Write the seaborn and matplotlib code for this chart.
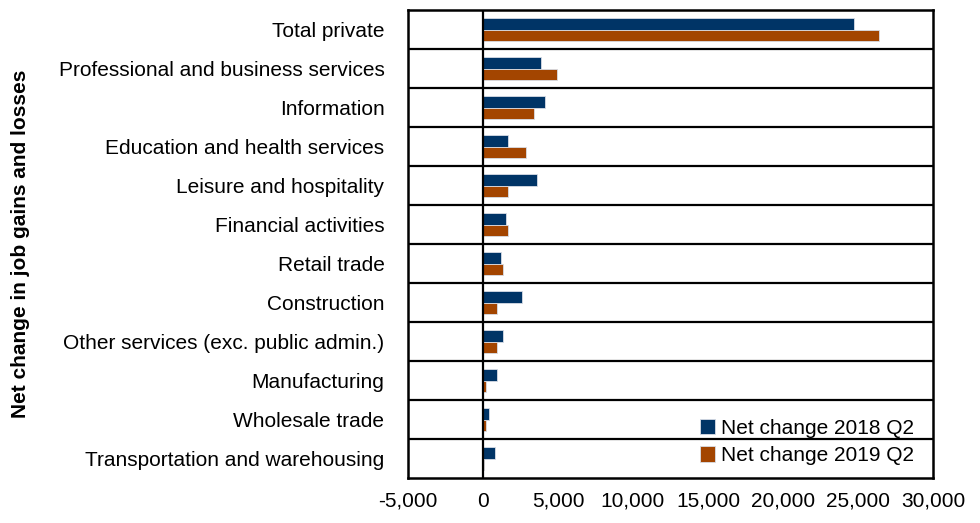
import matplotlib
matplotlib.use("Agg")
import matplotlib.pyplot as plt
from matplotlib.ticker import FuncFormatter
import pandas as pd
import seaborn as sns

# ---- Data ----
industries = [
    "Total private",
    "Professional and business services",
    "Information",
    "Education and health services",
    "Leisure and hospitality",
    "Financial activities",
    "Retail trade",
    "Construction",
    "Other services (exc. public admin.)",
    "Manufacturing",
    "Wholesale trade",
    "Transportation and warehousing",
]
net_2018 = [24730, 3880, 4130, 1690, 3600, 1560, 1180, 2600, 1310, 930, 430, 800]
net_2019 = [26420, 4900, 3370, 2850, 1690, 1690, 1310, 930, 930, 180, 180, 40]
series = ["Net change 2018 Q2", "Net change 2019 Q2"]
colors = ["#003466", "#A34500"]

df = pd.DataFrame({
    "industry": industries * 2,
    "value": net_2018 + net_2019,
    "series": [series[0]] * len(industries) + [series[1]] * len(industries),
})

sns.set_style("white")
plt.rcParams["font.family"] = ["Liberation Sans", "DejaVu Sans"]
plt.rcParams["text.color"] = "black"
plt.rcParams["axes.labelcolor"] = "black"
plt.rcParams["xtick.color"] = "black"
plt.rcParams["ytick.color"] = "black"

fig = plt.figure(figsize=(9.8, 5.23), dpi=100)
ax = fig.add_axes([408 / 980, 45 / 523, 525 / 980, 468 / 523])

sns.barplot(data=df, y="industry", x="value", hue="series", orient="h",
            palette=colors, width=0.58, order=industries, hue_order=series,
            edgecolor="#d8dde6", linewidth=0.6, saturation=1, ax=ax)

# ---- Styling ----
ax.set_xlim(-5000, 30000)
ax.set_xticks(range(-5000, 30001, 5000))
ax.xaxis.set_major_formatter(FuncFormatter(lambda v, p: f"{int(v):,}"))
ax.set_ylim(len(industries) - 0.5, -0.5)
for i in range(len(industries) - 1):
    ax.axhline(i + 0.5, color="black", lw=1.6)
ax.axvline(0, color="black", lw=1.6)
for s in ax.spines.values():
    s.set_color("black")
    s.set_linewidth(1.8)

ax.tick_params(axis="x", direction="out", length=6, width=1.5, color="black",
               labelsize=15, pad=4)
ax.tick_params(axis="y", length=0, labelsize=15, pad=17)
ax.set_xlabel("")
ax.set_ylabel("Net change in job gains and losses", fontsize=15,
              fontweight="bold")
ax.yaxis.set_label_coords(-0.72, 0.5)

ax.legend(loc="lower right", frameon=False, fontsize=15, handlelength=0.7,
          handleheight=0.75, handletextpad=0.3, labelspacing=0.4,
          bbox_to_anchor=(1.0, -0.013))

fig.savefig("out.png", dpi=100)
